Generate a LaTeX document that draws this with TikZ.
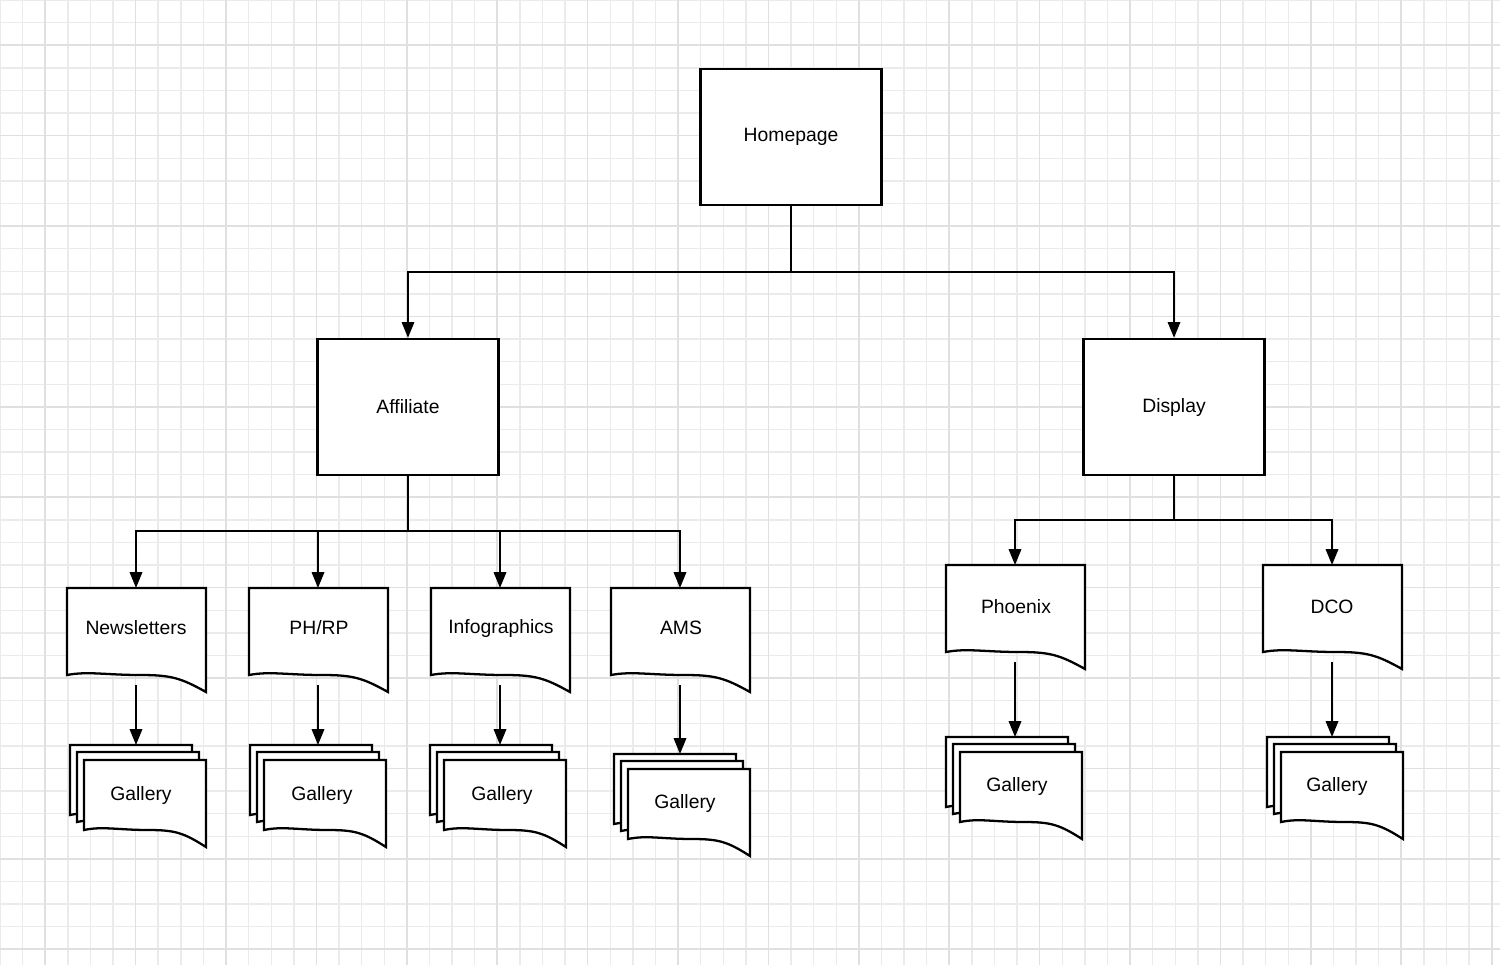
\documentclass[tikz,border=0pt]{standalone}
\usepackage{fontspec}
\setmainfont{Liberation Sans}
\usetikzlibrary{arrows.meta}
\tikzset{
  box/.style={draw,line width=1.3pt,fill=white,minimum width=181*0.02cm,minimum height=136*0.02cm,font=\fontsize{11}{13}\selectfont},
  lbl/.style={font=\fontsize{11}{13}\selectfont,inner sep=0pt},
  conn/.style={line width=1.3pt,-{Triangle[length=9pt,width=7pt]}},
  plain/.style={line width=1.3pt},
  docline/.style={draw,line width=1.3pt,fill=white,line join=miter}
}
% x0 y0 w h
\newcommand{\docpath}[4]{%
  \path[docline] (#1,#2) -- ++(#3,0) -- ++(0,#4+17)
    .. controls ++(-0.18*#3,-14) and ++(0.22*#3,0) .. ++(-0.47*#3,-17)
    .. controls ++(-0.25*#3,0) and ++(0.15*#3,-4) .. (#1,#2+#4) -- cycle;}
\newcommand{\gallerystack}[3]{% x0 y0 w
  \docpath{#1}{#2}{#3}{70}
  \docpath{#1+7}{#2+7}{#3}{70}
  \docpath{#1+14}{#2+15}{#3}{70}}
\begin{document}
\begin{tikzpicture}[x=0.02cm,y=-0.02cm]
\useasboundingbox (0,0) rectangle (1500,965);
\fill[white] (0,0) rectangle (1500,965);
\foreach \i in {0,...,66} {\draw[line width=0.8pt,black!8] (\i*22.6,0) -- (\i*22.6,965);}
\foreach \i in {0,...,43} {\draw[line width=0.8pt,black!8] (0,\i*22.6) -- (1500,\i*22.6);}
\foreach \i in {0,...,16} {\draw[line width=1pt,black!12] (45.2+\i*90.4,0) -- (45.2+\i*90.4,965);}
\foreach \i in {0,...,10} {\draw[line width=1pt,black!12] (0,45.2+\i*90.4) -- (1500,45.2+\i*90.4);}

\node[box] (home) at (791,137) {Homepage};
\node[box] (aff) at (408,407) {Affiliate};
\node[box] (disp) at (1174,407) {Display};
\coordinate (hb) at (791,272);
\draw[plain] (home.south) -- (hb);
\draw[conn] (hb) -| (aff.north);
\draw[conn] (hb) -| (disp.north);

% document shapes
\docpath{67}{588}{139}{87}
\docpath{249}{588}{139}{87}
\docpath{431}{588}{139}{87}
\docpath{611}{588}{139}{87}
\docpath{946}{565}{139}{87}
\docpath{1263}{565}{139}{87}
\node[lbl] (news) at (136,628) {Newsletters};
\node[lbl] (phrp) at (319,628) {PH/RP};
\node[lbl] (info) at (501,628) {Infographics};
\node[lbl] (ams) at (681,628) {AMS};
\node[lbl] (phx) at (1016,607) {Phoenix};
\node[lbl] (dco) at (1332,607) {DCO};
\coordinate (newsT) at (136,588); \coordinate (newsB) at (136,685);
\coordinate (phrpT) at (318,588); \coordinate (phrpB) at (318,685);
\coordinate (infoT) at (500,588); \coordinate (infoB) at (500,685);
\coordinate (amsT) at (680,588); \coordinate (amsB) at (680,685);
\coordinate (phxT) at (1015,565); \coordinate (phxB) at (1015,662);
\coordinate (dcoT) at (1332,565); \coordinate (dcoB) at (1332,662);

\coordinate (ab) at (408,531);
\draw[plain] (aff.south) -- (ab);
\draw[conn] (ab) -| (newsT);
\draw[conn] (ab) -| (phrpT);
\draw[conn] (ab) -| (infoT);
\draw[conn] (ab) -| (amsT);
\coordinate (db) at (1174,520);
\draw[plain] (disp.south) -- (db);
\draw[conn] (db) -| (phxT);
\draw[conn] (db) -| (dcoT);

% galleries
\gallerystack{70}{745}{122}
\gallerystack{250}{745}{122}
\gallerystack{430}{745}{122}
\gallerystack{614}{754}{122}
\gallerystack{946}{737}{122}
\gallerystack{1267}{737}{122}
\node[lbl] (g1) at (141,795) {Gallery};
\node[lbl] (g2) at (322,795) {Gallery};
\node[lbl] (g3) at (502,795) {Gallery};
\node[lbl] (g4) at (685,803) {Gallery};
\node[lbl] (g5) at (1017,786) {Gallery};
\node[lbl] (g6) at (1337,786) {Gallery};
\coordinate (g1T) at (136,745);
\coordinate (g2T) at (318,745);
\coordinate (g3T) at (500,745);
\coordinate (g4T) at (680,754);
\coordinate (g5T) at (1015,737);
\coordinate (g6T) at (1336,737);
\draw[conn] (newsB) -- (g1T);
\draw[conn] (phrpB) -- (g2T);
\draw[conn] (infoB) -- (g3T);
\draw[conn] (amsB) -- (g4T);
\draw[conn] (phxB) -- (g5T);
\draw[conn] (dcoB) -- (dcoB |- g6T);
\end{tikzpicture}
\end{document}
